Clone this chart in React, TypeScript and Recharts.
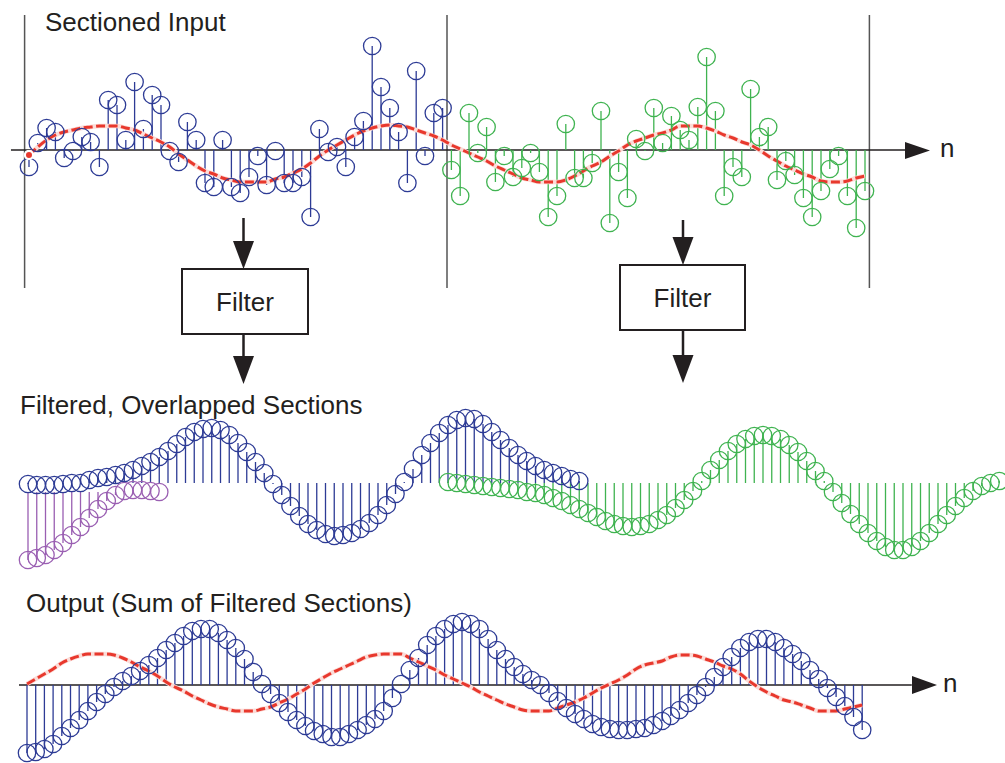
import React from 'react';
import { ComposedChart, Scatter, Line, XAxis, YAxis, ReferenceLine, ErrorBar } from 'recharts';

const W = 1005;
const H = 763;

// top panel: sectioned input, first section n = 0..47, second n = 48..95
const inputSection1 = [-17, 7, 22, 18, -8, -1, 13, 8, -17, 50, 45, 10, 68, 21, 55, 45, -1, -12, 28, 10, -33, -37, 10, -37, -43, -27, -6, -35, -1, -33, -33, -27, -67, 21, -2, 3, -17, 13, 29, 104, 63, 42, 18, -33, 79, -6, 37, 42];
const inputSection2 = [-20, -46, 37, -3, 23, -32, -6, -27, -18, -3, -22, -67, -46, 26, -28, -28, -13, 39, -73, -22, -48, 11, -1, 42, 7, 34, 20, 10, 43, 93, 39, -46, -17, -27, 61, 13, 23, -30, -11, -25, -48, -67, -41, -19, -6, -46, -78, -41];
const inputSignal = [-5, 3, 10, 15, 18, 20, 22, 23, 24, 24, 24, 22, 20, 16, 12, 8, 3, -4, -10, -16, -21, -24, -28, -30, -32, -32, -32, -32, -29, -27, -23, -19, -13, -6, 0, 5, 10, 15, 19, 22, 24, 25, 24, 23, 20, 17, 14, 10, 5, 1, -3, -7, -11, -16, -20, -24, -28, -30, -32, -32, -32, -30, -26, -21, -16, -12, -6, -1, 5, 9, 12, 15, 17, 20, 24, 24, 24, 22, 19, 15, 12, 8, 5, 0, -6, -11, -16, -20, -24, -27, -31, -32, -32, -31, -28, -26];
const sectionEdges = [-0.5, 47.5, 95.5];

// middle panel: filtered sections (previous tail n = 0..15, section 1 n = 0..63, section 2 n = 48..111)
const prevTail = [-77, -75, -72, -67, -60, -52, -44, -35, -26, -18, -12, -8, -7, -7, -8, -9];
const filtered1 = [-1, -2, -2, -2, -1, 0, 0, 3, 5, 6, 8, 10, 13, 17, 21, 26, 32, 39, 46, 51, 54, 55, 53, 48, 40, 31, 21, 10, -1, -12, -23, -33, -41, -47, -51, -53, -52, -50, -46, -40, -32, -22, -11, 1, 14, 28, 40, 50, 58, 63, 65, 64, 59, 51, 43, 35, 28, 22, 17, 13, 10, 7, 4, 2];
const filtered2 = [1, 0, -1, -2, -3, -4, -5, -6, -7, -9, -10, -12, -15, -18, -22, -26, -30, -34, -38, -41, -43, -44, -43, -41, -37, -32, -25, -17, -8, 2, 13, 23, 32, 39, 44, 47, 48, 47, 44, 38, 31, 22, 12, 2, -9, -20, -31, -41, -50, -58, -64, -67, -67, -64, -58, -50, -41, -32, -23, -15, -8, -3, 0, 2];

// bottom panel: output n = 0..96
const outputSum = [-68, -67, -64, -59, -51, -43, -35, -26, -17, -9, -2, 4, 9, 14, 20, 27, 35, 42, 49, 54, 56, 56, 52, 45, 37, 26, 13, 1, -9, -18, -27, -35, -41, -46, -49, -52, -52, -49, -45, -40, -34, -26, -13, 1, 15, 27, 40, 49, 56, 61, 63, 61, 56, 46, 35, 26, 18, 11, 5, 0, -8, -16, -23, -29, -34, -39, -42, -44, -45, -45, -44, -43, -40, -36, -31, -25, -18, -10, -2, 8, 18, 28, 37, 43, 46, 46, 43, 37, 31, 24, 15, 6, -3, -12, -21, -32, -45];
const outputSignal = [1, 6, 11, 16, 22, 26, 29, 31, 31, 31, 30, 27, 23, 18, 14, 9, 3, -2, -6, -11, -15, -19, -22, -24, -26, -26, -26, -24, -22, -18, -14, -9, -4, 2, 7, 12, 16, 20, 24, 28, 30, 31, 31, 31, 27, 23, 19, 15, 10, 6, 2, -2, -7, -11, -15, -19, -22, -25, -26, -26, -26, -23, -20, -17, -13, -8, -3, 1, 5, 10, 16, 20, 22, 24, 28, 30, 30, 29, 26, 23, 19, 16, 11, 4, -2, -7, -11, -15, -17, -20, -23, -26, -26, -26, -24, -22, -20];

const BLUE = '#2d3b95';
const GREEN = '#3fb350';
const PURPLE = '#9a5fb2';
const RED = '#e8382d';
const INK = '#231f20';
const FONT = '"Liberation Sans", Arial, Helvetica, sans-serif';

const stems = (vals: number[], first = 0, base = 0) =>
  vals.map((v, k) => ({ n: first + k, v, err: v >= base ? [v - base, 0] : [0, base - v] }));
const curve = (vals: number[], first = 0) => vals.map((v, k) => ({ n: first + k, v }));

const ring = (color: string) => (p: any) =>
  <circle cx={p.cx} cy={p.cy} r={8.7} fill="none" stroke={color} strokeWidth={1.3} />;

const stemSeries = (key: string, data: any[], color: string) => (
  <Scatter key={key} data={data} shape={ring(color)} isAnimationActive={false}>
    <ErrorBar dataKey="err" direction="y" width={0} stroke={color} strokeWidth={1.3} isAnimationActive={false} />
  </Scatter>
);

const dashedCurve = (key: string, data: any[]) => [
  <Line key={key + '-halo'} data={data} dataKey="v" type="monotone" stroke="#fbdcd8" strokeWidth={4.5} dot={false} isAnimationActive={false} />,
  <Line key={key} data={data} dataKey="v" type="monotone" stroke={RED} strokeWidth={3} strokeDasharray="9 3.5" dot={false} isAnimationActive={false} />,
];

const panel = (top: number, height: number, base: number, x0: number, dx: number, children: React.ReactNode) => (
  <div style={{ position: 'absolute', left: 0, top }}>
    <ComposedChart width={W} height={height} margin={{ top: 0, right: 0, bottom: 0, left: 0 }}>
      <XAxis type="number" dataKey="n" domain={[-x0 / dx, (W - x0) / dx]} hide allowDataOverflow />
      <YAxis type="number" dataKey="v" domain={[base - height, base]} hide allowDataOverflow />
      {children}
    </ComposedChart>
  </div>
);

const Arrow = ({ x, y1, y2 }: { x: number; y1: number; y2: number }) => (
  <g>
    <line x1={x} y1={y1} x2={x} y2={y2 - 24} stroke={INK} strokeWidth={2.5} />
    <polygon points={`${x - 10.5},${y2 - 28} ${x + 10.5},${y2 - 28} ${x},${y2}`} fill={INK} />
  </g>
);

const FilterBox = ({ x, y, w, h }: { x: number; y: number; w: number; h: number }) => (
  <g>
    <rect x={x} y={y} width={w} height={h} fill="#fff" stroke={INK} strokeWidth={2} />
    <text x={x + w / 2} y={y + h / 2 + 9} textAnchor="middle" fontSize={26} fontFamily={FONT} fill={INK}>Filter</text>
  </g>
);

export default function App() {
  const textStyle = { fontSize: 26, fontFamily: FONT, fill: INK };
  return (
    <div style={{ position: 'absolute', left: 0, top: 0, width: W, height: H, background: '#fff' }}>
      {panel(0, 300, 150, 29, 8.8, [
        ...sectionEdges.map((e) => (
          <ReferenceLine key={'edge' + e} segment={[{ x: e, y: 135 }, { x: e, y: -138 }]} stroke="#555" strokeWidth={1.5} ifOverflow="visible" />
        )),
        <ReferenceLine key="axis" segment={[{ x: -2.05, y: 0 }, { x: 99.55, y: 0 }]} stroke={INK} strokeWidth={1.5} ifOverflow="visible" />,
        stemSeries('in1', stems(inputSection1, 0), BLUE),
        stemSeries('in2', stems(inputSection2, 48), GREEN),
        ...dashedCurve('inSig', curve(inputSignal)),
      ])}
      {panel(380, 220, 103, 28, 8.75, [
        stemSeries('tail', stems(prevTail, 0, -9), PURPLE),
        stemSeries('f1', stems(filtered1, 0), BLUE),
        stemSeries('f2', stems(filtered2, 48), GREEN),
      ])}
      {panel(590, 173, 95, 27, 8.7, [
        <ReferenceLine key="axis" segment={[{ x: -0.92, y: 0 }, { x: 101.7, y: 0 }]} stroke={INK} strokeWidth={1.5} ifOverflow="visible" />,
        stemSeries('out', stems(outputSum, 0), BLUE),
        ...dashedCurve('outSig', curve(outputSignal)),
      ])}
      <svg width={W} height={H} style={{ position: 'absolute', left: 0, top: 0, pointerEvents: 'none' }}>
        <text x={45} y={31} style={textStyle}>Sectioned Input</text>
        <text x={20} y={414} style={textStyle}>Filtered, Overlapped Sections</text>
        <text x={26} y={612} style={textStyle}>Output (Sum of Filtered Sections)</text>
        <polygon points="905,142 905,159 930,150.5" fill={INK} />
        <text x={940} y={157} style={textStyle}>n</text>
        <polygon points="912,676 912,694 937,685" fill={INK} />
        <text x={943} y={692} style={textStyle}>n</text>
        <Arrow x={243.5} y1={218} y2={269} />
        <FilterBox x={182} y={269} w={126} h={65} />
        <Arrow x={243.5} y1={334} y2={384} />
        <Arrow x={683} y1={220} y2={265} />
        <FilterBox x={620} y={265} w={125} h={65} />
        <Arrow x={683} y1={330} y2={383} />
      </svg>
    </div>
  );
}
